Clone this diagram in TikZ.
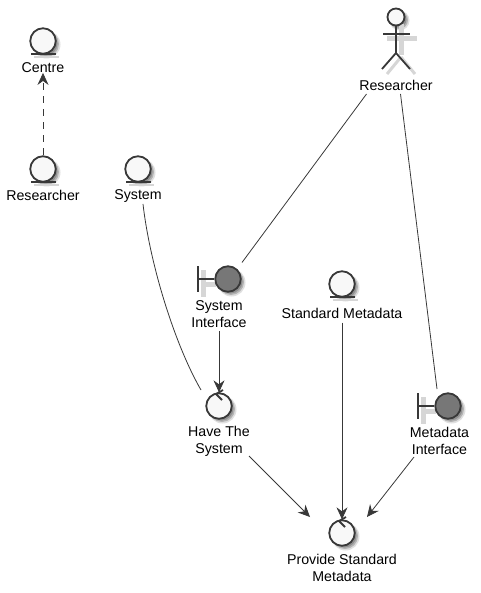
\documentclass[tikz,border=0pt]{standalone}
\usepackage{xcolor}
\usepackage{fontspec}
\setmainfont{Liberation Sans}
\usetikzlibrary{arrows.meta}
\definecolor{ink}{HTML}{383838}
\definecolor{paper}{HTML}{F8F8F8}
\definecolor{slate}{HTML}{777777}
\definecolor{bargrey}{HTML}{D6D6D6}

\begin{document}
\begin{tikzpicture}[x=1pt, y=-1pt, line width=0.8pt, ink,
    every node/.style={inner sep=0pt},
    robust/.style={circle, draw=ink, line width=1.8pt, fill=paper, minimum size=25.5pt},
    iface/.style={robust, fill=slate},
    txt/.style={text=black, align=center, font=\fontsize{14.2}{17}\selectfont},
    bar/.style={line width=1.8pt},
    barshade/.style={line width=5pt, bargrey},
    flow/.style={-{Stealth[inset=4pt, length=12pt, width=11pt]}}]
    % page
    \useasboundingbox (0,0) rectangle (480,593);

    % shadows
    \foreach \sx/\sy/\sr in {43/41/13, 43/169/13, 138/169/13, 342/284/13, 228/279/13, 448/406/13, 219/406/13, 342/533/13, 396/17/9} {
        \fill[black, opacity=.12] (\sx+3.5,\sy+3.5) circle (\sr+1);
        \fill[black, opacity=.2] (\sx+3,\sy+3) circle (\sr);
        \fill[black, opacity=.2] (\sx+2.5,\sy+2.5) circle (\sr-1);
    }
    \foreach \ex/\ey in {43/54, 43/182, 138/182, 342/297} {
        \draw[barshade, line width=2pt] (\ex-9,\ey+3) -- (\ex+16,\ey+3);
    }
    \foreach \bx/\by in {228/279, 448/406} {
        \draw[barshade] (\bx-25,\by-9) -- (\bx-25,\by+18);
        \draw[barshade] (\bx-25,\by+5) -- (\bx-12,\by+5);
    }
    \draw[barshade] (387,39) -- (417,39);
    \draw[barshade] (401,24) -- (401,55);
    \draw[barshade, line width=3pt] (401,57) -- (387,74);
    \draw[barshade, line width=3pt] (401,57) -- (415,74);

    % entities
    \node[robust] (centre) at (43,41) {};
    \node[robust] (researcherb) at (43,169) {};
    \node[robust] (system) at (138,169) {};
    \node[robust] (standard) at (342,284) {};
    \draw[bar] (31,54) -- (56,54);
    \draw[bar] (31,182) -- (56,182);
    \draw[bar] (126,182) -- (151,182);
    \draw[bar] (330,297) -- (355,297);

    % actor
    \node[robust, minimum size=17pt] (head) at (396,17) {};
    \coordinate (neck) at (396,25);
    \coordinate (hip) at (396,53);
    \draw[bar] (neck) -- (hip);
    \draw[bar] (383,34) -- (410,34);
    \draw[bar] (382,69) -- (hip) -- (410,69);

    % boundaries
    \node[iface] (sysif) at (228,279) {};
    \node[iface] (mdif) at (448,406) {};
    \draw[bar] (198,266) -- (198,292);
    \draw[bar] (198,279) -- (sysif);
    \draw[bar] (418,393) -- (418,419);
    \draw[bar] (418,406) -- (mdif);

    % controls
    \node[robust] (have) at (219,406) {};
    \node[robust] (provide) at (342,533) {};
    \draw[bar] (223,390) -- (216,394) -- (222,400);
    \draw[bar] (346,517) -- (339,521) -- (345,527);

    % labels
    \node[txt] (centrelbl) at (43,67.5) {Centre};
    \node[txt] (researcherlbl) at (43,195.5) {Researcher};
    \node[txt] (systemlbl) at (138,196.5) {System};
    \node[txt] (actorlbl) at (396,85.5) {Researcher};
    \node[txt] (standardlbl) at (342,313.5) {Standard Metadata};
    \node[txt] (sysiflbl) at (219,314) {System\\Interface};
    \node[txt] (mdiflbl) at (439.5,441) {Metadata\\Interface};
    \node[txt] (havelbl) at (219,441) {Have The\\System};
    \node[txt] (providelbl) at (342,568) {Provide Standard\\Metadata};

    % free ends
    \coordinate (a1) at (366.5,94);
    \coordinate (a2) at (400.5,94);
    \coordinate (s1) at (242,262.5);
    \coordinate (m1) at (437,389);
    \coordinate (c1) at (143,204);
    \coordinate (h1) at (201,390);
    \coordinate (h2) at (249,456);
    \coordinate (p1) at (310,517);
    \coordinate (m2) at (414,457);
    \coordinate (p2) at (367,517);

    % connectors
    \draw[flow, dashed, dash pattern=on 7pt off 6pt] (researcherb) ++(0,-14) -- (centrelbl);
    \draw (a1) -- (s1);
    \draw (a2) -- (m1);
    \draw (c1) .. controls (150,265) and (175,345) .. (h1);
    \draw[flow] (sysiflbl) ++(0,17) -- (have.north);
    \draw[flow] (standardlbl) ++(0,9) -- (provide.north);
    \draw[flow] (h2) -- (p1);
    \draw[flow] (m2) -- (p2);
\end{tikzpicture}
\end{document}
